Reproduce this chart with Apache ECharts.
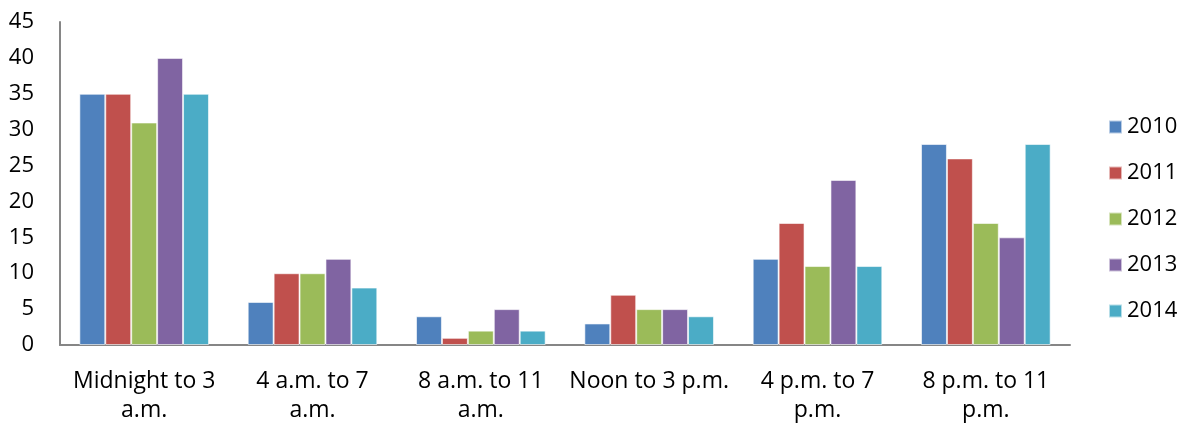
<!DOCTYPE html>
<html>
<head>
<meta charset="utf-8">
<script src="https://cdn.jsdelivr.net/npm/echarts@6/dist/echarts.min.js"></script>
<style>
  html, body { margin: 0; padding: 0; background: #fff; }
  #chart { width: 1185px; height: 425px; }
</style>
</head>
<body>
<div id="chart"></div>
<script>
// Time-of-day periods on the category axis
const categories = ['Midnight to 3\na.m.', '4 a.m. to 7\na.m.', '8 a.m. to 11\na.m.', 'Noon to 3 p.m.', '4 p.m. to 7\np.m.', '8 p.m. to 11\np.m.'];
const years = ['2010', '2011', '2012', '2013', '2014'];
const values2010 = [35, 6, 4, 3, 12, 28];
const values2011 = [35, 10, 1, 7, 17, 26];
const values2012 = [31, 10, 2, 5, 11, 17];
const values2013 = [40, 12, 5, 5, 23, 15];
const values2014 = [35, 8, 2, 4, 11, 28];
const yTicks = [0, 5, 10, 15, 20, 25, 30, 35, 40, 45];

const seriesValues = [values2010, values2011, values2012, values2013, values2014];
const colors = ['#4F81BD', '#C0504D', '#9BBB59', '#8064A2', '#4BACC6'];
const font = '"Open Sans", sans-serif';

const chart = echarts.init(document.getElementById('chart'));
chart.setOption({
  animation: false,
  color: colors,
  grid: { left: 60, right: 115, top: 22, bottom: 79, containLabel: false },
  legend: {
    orient: 'vertical',
    left: 1108,
    top: 114,
    padding: 0,
    itemWidth: 13,
    itemHeight: 13,
    itemGap: 20,
    icon: 'rect',
    textStyle: { fontFamily: font, fontSize: 22, color: '#000', lineHeight: 26 },
    data: years
  },
  xAxis: {
    type: 'category',
    data: categories,
    axisLine: { lineStyle: { color: '#868686', width: 2 } },
    axisTick: { show: false },
    axisLabel: { fontFamily: font, fontSize: 23, color: '#000', lineHeight: 29, margin: 22, interval: 0 }
  },
  yAxis: {
    type: 'value',
    min: yTicks[0],
    max: yTicks[yTicks.length - 1],
    interval: 5,
    axisLine: { show: true, lineStyle: { color: '#868686', width: 2 } },
    axisTick: { show: false },
    splitLine: { show: false },
    axisLabel: { fontFamily: font, fontSize: 22, color: '#000', margin: 26 }
  },
  series: years.map((y, i) => ({
    name: y,
    type: 'bar',
    data: seriesValues[i],
    barGap: '0%',
    barCategoryGap: '23%',
    itemStyle: { borderColor: 'rgba(255,255,255,0.6)', borderWidth: 1 }
  }))
});
</script>
</body>
</html>
